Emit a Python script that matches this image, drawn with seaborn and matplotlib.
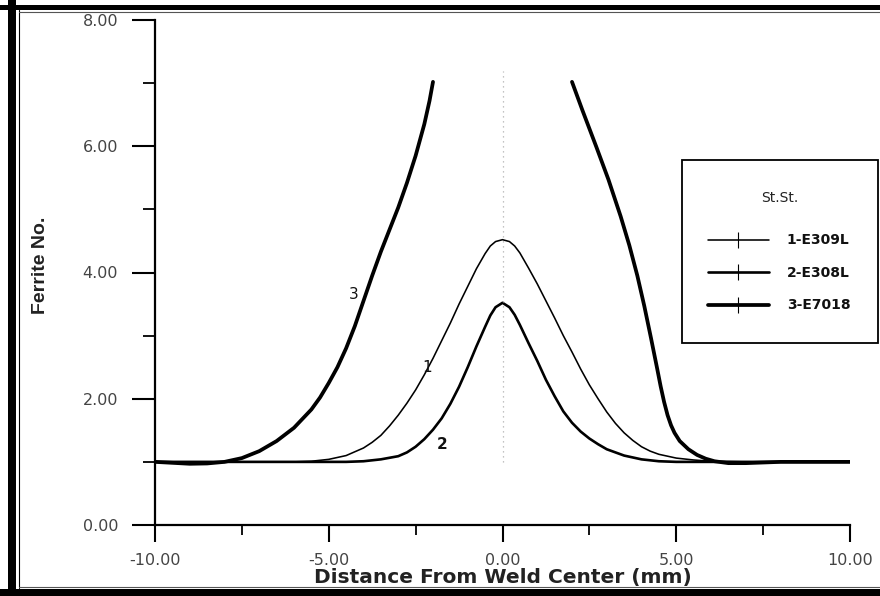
import matplotlib
matplotlib.use("Agg")
import matplotlib.pyplot as plt
import seaborn as sns
import pandas as pd
from matplotlib.lines import Line2D
from matplotlib.patches import Rectangle

# ---- data ----
x_e309l = [-10, -7, -6, -5.5, -5, -4.5, -4, -3.75, -3.5, -3.25, -3, -2.75, -2.5, -2.25,
           -2, -1.75, -1.5, -1.25, -1, -0.75, -0.5, -0.35, -0.2, 0,
           0.2, 0.35, 0.5, 0.75, 1.0, 1.25, 1.5, 1.75, 2.0, 2.25, 2.5, 2.75, 3.0, 3.25,
           3.5, 3.75, 4.0, 4.25, 4.5, 5.0, 5.5, 6.0, 7, 10]
y_e309l = [1.0, 1.0, 1.0, 1.01, 1.04, 1.1, 1.22, 1.31, 1.42, 1.57, 1.74, 1.93, 2.14, 2.38,
           2.64, 2.92, 3.2, 3.5, 3.78, 4.06, 4.3, 4.42, 4.49, 4.52,
           4.49, 4.42, 4.31, 4.07, 3.82, 3.55, 3.28, 3.0, 2.74, 2.47, 2.22, 2.0, 1.79, 1.61,
           1.46, 1.34, 1.24, 1.17, 1.12, 1.06, 1.03, 1.01, 1.0, 1.0]

x_e308l = [-10, -6, -5, -4.5, -4, -3.5, -3.0, -2.75, -2.5, -2.25, -2, -1.75, -1.5, -1.25,
           -1, -0.75, -0.5, -0.35, -0.2, 0,
           0.2, 0.35, 0.5, 0.75, 1.0, 1.25, 1.5, 1.75, 2.0, 2.25, 2.5, 2.75, 3.0, 3.5,
           4.0, 4.5, 5, 7, 10]
y_e308l = [1.0, 1.0, 1.0, 1.0, 1.01, 1.04, 1.09, 1.15, 1.24, 1.36, 1.51, 1.69, 1.92, 2.19,
           2.5, 2.83, 3.14, 3.32, 3.45, 3.52,
           3.45, 3.33, 3.17, 2.88, 2.6, 2.3, 2.04, 1.8, 1.62, 1.48, 1.37, 1.28, 1.2, 1.1,
           1.04, 1.01, 1.0, 1.0, 1.0]

x_e7018_left = [-10, -9.5, -9, -8.5, -8, -7.5, -7, -6.5, -6, -5.5, -5.25, -5, -4.75, -4.5,
                -4.25, -4, -3.75, -3.5, -3.25, -3, -2.75, -2.5, -2.25, -2.1, -2.0]
y_e7018_left = [1.0, 0.985, 0.97, 0.975, 1.0, 1.06, 1.17, 1.33, 1.54, 1.83, 2.02, 2.25,
                2.5, 2.8, 3.15, 3.55, 3.95, 4.33, 4.68, 5.03, 5.42, 5.85, 6.35, 6.72, 7.02]

x_e7018_right = [2.0, 2.3, 2.7, 3.05, 3.4, 3.65, 3.88, 4.08, 4.27, 4.45, 4.55, 4.65, 4.75,
                 4.85, 4.95, 5.1, 5.35, 5.6, 5.85, 6.1, 6.5, 7.0, 8.0, 10]
y_e7018_right = [7.02, 6.57, 5.99, 5.47, 4.89, 4.43, 3.95, 3.47, 2.97, 2.48, 2.2, 1.95,
                 1.74, 1.58, 1.46, 1.33, 1.2, 1.11, 1.05, 1.01, 0.98, 0.98, 1.0, 1.0]

series_names = ["1-E309L", "2-E308L", "3-E7018"]
legend_title = "St.St."
x_major = [-10, -5, 0, 5, 10]
x_minor = [-7.5, -2.5, 2.5, 7.5]
y_major = [0, 2, 4, 6, 8]
y_minor = [1, 3, 5, 7]
xlabel = "Distance From Weld Center (mm)"
ylabel = "Ferrite No."

# ---- figure ----
sns.set_theme(style="ticks")
plt.rcParams["font.family"] = ["DejaVu Sans"]

W, H = 880, 596
fig = plt.figure(figsize=(W / 100, H / 100), dpi=100)
fig.patch.set_facecolor("white")
ax = fig.add_axes([155 / W, 1 - 525 / H, 695 / W, 505 / H])
ax.set_facecolor("white")

lws = [1.15, 1.9, 2.7]
segments = [
    (x_e309l, y_e309l, lws[0]),
    (x_e308l, y_e308l, lws[1]),
    (x_e7018_left, y_e7018_left, lws[2]),
    (x_e7018_right, y_e7018_right, lws[2]),
]
for xs, ys, lw in segments:
    df = pd.DataFrame({"x": xs, "y": ys})
    sns.lineplot(data=df, x="x", y="y", ax=ax, color="black", linewidth=lw,
                 sort=False, estimator=None, solid_capstyle="round",
                 solid_joinstyle="round", legend=False)

# faint dotted centre line
ax.plot([0, 0], [1.0, 7.2], color="#b0b0b0", linestyle=(0, (1, 3)), linewidth=0.9)

# curve labels
ax.text(-4.29, 3.65, "3", fontsize=11, ha="center", va="center", color="#111")
ax.text(-2.16, 2.5, "1", fontsize=11, ha="center", va="center", color="#111")
ax.text(-1.73, 1.27, "2", fontsize=11, ha="center", va="center", color="#111",
        fontweight="bold")

ax.set_xlim(-10, 10)
ax.set_ylim(0, 8)
ax.set_xticks(x_major)
ax.set_xticks(x_minor, minor=True)
ax.set_yticks(y_major)
ax.set_yticks(y_minor, minor=True)
ax.set_xticklabels([f"{v:.2f}" for v in x_major])
ax.set_yticklabels([f"{v:.2f}" for v in y_major])

sns.despine(ax=ax, top=True, right=True)
for s in ["left", "bottom"]:
    ax.spines[s].set_linewidth(1.6)
    ax.spines[s].set_color("black")

ax.tick_params(axis="y", which="major", length=16.5, width=1.5, pad=10,
               labelsize=11.5, labelcolor="#444", color="black", direction="out")
ax.tick_params(axis="y", which="minor", length=8.5, width=1.3, color="black",
               direction="out")
ax.tick_params(axis="x", which="major", length=12.5, width=1.5, pad=8,
               labelsize=11.5, labelcolor="#444", color="black", direction="out")
ax.tick_params(axis="x", which="minor", length=7, width=1.3, color="black",
               direction="out")

ax.set_xlabel(xlabel, fontsize=14.5, fontweight="bold", color="#222", labelpad=0)
ax.xaxis.set_label_coords(0.5, -0.085)
ax.set_ylabel(ylabel, fontsize=14, fontweight="bold", color="#222",
              family=["Liberation Sans Narrow", "Liberation Sans", "DejaVu Sans"])
ax.yaxis.set_label_coords(-0.152, 0.515)

# legend box, title and entries
fig.patches.append(Rectangle((682 / W, 1 - 343 / H), (878 - 682) / W, (343 - 160) / H,
                             transform=fig.transFigure, fill=False,
                             edgecolor="black", linewidth=1.3))
fig.text(780 / W, 1 - 198 / H, legend_title, fontsize=10, color="#222",
         ha="center", va="center")
handles = [Line2D([], [], color="black", linewidth=lw, marker="|", markersize=12,
                  markeredgewidth=0.8) for lw in lws]
leg = fig.legend(handles, series_names, loc="upper left",
                 bbox_to_anchor=(695 / W, 1 - 221 / H), frameon=False,
                 fontsize=10, borderpad=0.4,
                 handlelength=4.4, handletextpad=1.3, labelspacing=1.33)
for t in leg.get_texts():
    t.set_fontweight("bold")
    t.set_color("#111")

# outer frame of the scanned figure
fig.patches.append(Rectangle((8 / W, 0), 8 / W, 1, transform=fig.transFigure,
                             facecolor="black", edgecolor="none"))
fig.patches.append(Rectangle((0, 1 - 10 / H), 1, 5 / H, transform=fig.transFigure,
                             facecolor="black", edgecolor="none"))
fig.patches.append(Rectangle((0, 0), 1, 7 / H, transform=fig.transFigure,
                             facecolor="black", edgecolor="none"))
fig.add_artist(Line2D([19 / W, 19 / W], [8 / H, 1 - 10 / H], transform=fig.transFigure,
                      color="black", linewidth=0.8))
fig.add_artist(Line2D([19 / W, 1], [1 - 12 / H, 1 - 12 / H], transform=fig.transFigure,
                      color="#555", linewidth=0.8))
fig.add_artist(Line2D([19 / W, 1], [9 / H, 9 / H], transform=fig.transFigure,
                      color="#555", linewidth=0.8))

fig.savefig("out.png", dpi=100, facecolor="white")
